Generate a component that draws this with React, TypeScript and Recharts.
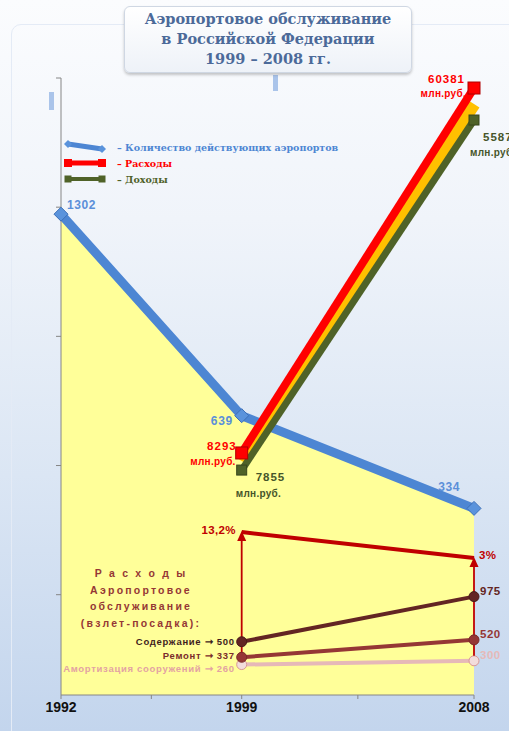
import React from 'react';
import { ComposedChart, Area, Line, XAxis, YAxis, Legend } from 'recharts';

// данные
const years = [1992, 1999, 2008];
const airportCount = [1302, 639, 334];
const expensesMln = [null, 8293, 60381];
const incomeMln = [null, 7855, 55877];
const expenseSharePct = [null, 13.2, 3];
const maintenanceCost = [null, 500, 975];
const repairCost = [null, 337, 520];
const depreciationCost = [null, 260, 300];
const yearTicks = [1992, 1995.5, 1999, 2003.5, 2008];
const labeledYears = [1992, 1999, 2008];
const airportTicks = [50, 475, 900, 1325, 1750];

const seriesNames = {
  airports: 'Количество действующих аэропортов',
  expenses: 'Расходы',
  income: 'Доходы',
};
const costNames = ['', 'Содержание', 'Ремонт', 'Амортизация сооружений'];
const unitLabel = 'млн.руб.';
const blockTitle = ['Р а с х о д ы', 'Аэропортовое', 'обслуживание', '(взлет-посадка):'];
const titleLines = ['Аэропортовое обслуживание', 'в Российской Федерации', '1999 – 2008 гг.'];

const data = years.map((year, i) => ({
  year,
  airports: airportCount[i],
  expenses: expensesMln[i],
  income: incomeMln[i],
  share: expenseSharePct[i],
  maintenance: maintenanceCost[i],
  repair: repairCost[i],
  depreciation: depreciationCost[i],
}));

const SANS = "'Liberation Sans', Arial, sans-serif";
const SERIF = "'DejaVu Serif', serif";

const Txt = ({ x, y, anchor = 'start', color, size = 11, spacing = 0.5, children }: any) => (
  <text
    x={x}
    y={y}
    textAnchor={anchor}
    dominantBaseline="central"
    fill={color}
    fontSize={size}
    fontWeight="bold"
    fontFamily={SANS}
    letterSpacing={spacing}
  >
    {children}
  </text>
);

// y точек амортизации, от них стрелки идут вверх к процентам
const depreciationY: Record<number, number> = {};

const airportDot = (p: any) => {
  const { cx, cy, index, value } = p;
  if (value == null || cy == null) return <g key={`a${index}`} />;
  const pos = [
    { dx: 6, dy: -9, a: 'start' },
    { dx: -9, dy: 5, a: 'end' },
    { dx: -14, dy: -21, a: 'end' },
  ][index];
  return (
    <g key={`a${index}`}>
      <polygon
        points={`${cx},${cy - 7} ${cx + 7},${cy} ${cx},${cy + 7} ${cx - 7},${cy}`}
        fill="#5a93dc"
        stroke="#3d70b8"
        strokeWidth={1}
      />
      <Txt x={cx + pos.dx} y={cy + pos.dy} anchor={pos.a} color="#5b8fd9" size={12} spacing={0.6}>
        {value}
      </Txt>
    </g>
  );
};

const expenseDot = (p: any) => {
  const { cx, cy, index, value } = p;
  if (value == null || cy == null) return <g key={`e${index}`} />;
  const pos = index === 2 ? { dx: -9, dy: -9, udx: -8, udy: 5 } : { dx: -5, dy: -7, udx: -6, udy: 9 };
  return (
    <g key={`e${index}`}>
      <rect x={cx - 6} y={cy - 6} width={12} height={12} fill="#ff0000" stroke="#b00000" strokeWidth={1} />
      <Txt x={cx + pos.dx} y={cy + pos.dy} anchor="end" color="#ff0000" size={11.5} spacing={1}>
        {value}
      </Txt>
      <Txt x={cx + pos.udx} y={cy + pos.udy} anchor="end" color="#ff0000" size={10} spacing={0.3}>
        {unitLabel}
      </Txt>
    </g>
  );
};

const incomeDot = (p: any) => {
  const { cx, cy, index, value } = p;
  if (value == null || cy == null) return <g key={`i${index}`} />;
  const pos = index === 2 ? { dx: 9, dy: 17, udx: -4, udy: 32 } : { dx: 14, dy: 7, udx: -6, udy: 23 };
  return (
    <g key={`i${index}`}>
      <rect x={cx - 5} y={cy - 5} width={10} height={10} fill="#4f6228" stroke="#38461c" strokeWidth={1} />
      <Txt x={cx + pos.dx} y={cy + pos.dy} color="#46552a" size={11.5} spacing={1}>
        {value}
      </Txt>
      <Txt x={cx + pos.udx} y={cy + pos.udy} color="#46552a" size={10} spacing={0.3}>
        {unitLabel}
      </Txt>
    </g>
  );
};

const makeCostDot = (
  fill: string,
  stroke: string,
  labelColor: string,
  sideColor: string,
  nameIdx: number,
  sideDy: number,
  capture = false,
) =>
  (p: any) => {
    const { cx, cy, index, value } = p;
    if (value == null || cy == null) return <g key={`c${nameIdx}-${index}`} />;
    if (capture) depreciationY[index] = cy;
    return (
      <g key={`c${nameIdx}-${index}`}>
        <circle cx={cx} cy={cy} r={5} fill={fill} stroke={stroke} strokeWidth={1} />
        {index === 1 ? (
          <Txt x={cx - 7} y={cy + sideDy} anchor="end" color={sideColor} size={9.5} spacing={0.7}>
            {`${costNames[nameIdx]} ➞ ${value}`}
          </Txt>
        ) : (
          <Txt x={cx + 6} y={cy - 6} color={labelColor} size={11.5} spacing={0.5}>
            {value}
          </Txt>
        )}
      </g>
    );
  };

const maintenanceDot = makeCostDot('#632523', '#4a1a19', '#632523', '#3f1d1d', 1, 0);
const repairDot = makeCostDot('#953735', '#7a2a28', '#953735', '#7b2c2c', 2, -1.5);
const depreciationDot = makeCostDot('#f2dcdb', '#d99694', '#e6b9b8', '#e3a3a3', 3, 3.5, true);

const shareDot = (p: any) => {
  const { cx, cy, index, value } = p;
  if (value == null || cy == null) return <g key={`s${index}`} />;
  const baseY = depreciationY[index] != null ? depreciationY[index] : cy + 130;
  const txt = `${String(value).replace('.', ',')}%`;
  return (
    <g key={`s${index}`}>
      <line x1={cx} y1={baseY - 5} x2={cx} y2={cy + 8} stroke="#c00000" strokeWidth={1.8} />
      <polygon points={`${cx},${cy - 1} ${cx - 4.5},${cy + 9} ${cx + 4.5},${cy + 9}`} fill="#c00000" />
      {index === 1 ? (
        <Txt x={cx - 6} y={cy - 2} anchor="end" color="#c00000" size={11.5} spacing={0.3}>
          {txt}
        </Txt>
      ) : (
        <Txt x={cx + 5} y={cy - 3} color="#c00000" size={11.5} spacing={0.3}>
          {txt}
        </Txt>
      )}
    </g>
  );
};

const yearTick = (p: any) => {
  const { x, y, payload } = p;
  if (!labeledYears.includes(payload.value)) return <g />;
  return (
    <text x={x} y={y + 11} textAnchor="middle" fontFamily={SANS} fontWeight="bold" fontSize={14} fill="#111">
      {payload.value}
    </text>
  );
};

const LegendIcon = ({ kind }: { kind: string }) => {
  if (kind === 'airports') {
    return (
      <svg width={44} height={14}>
        <line x1={5} y1={4} x2={39} y2={9} stroke="#4d86d3" strokeWidth={5} />
        <polygon points="5,0 9,4 5,8 1,4" fill="#5a93dc" />
        <polygon points="39,5 43,9 39,13 35,9" fill="#5a93dc" />
      </svg>
    );
  }
  const color = kind === 'expenses' ? '#ff0000' : '#4f6228';
  const s = kind === 'expenses' ? 8 : 7;
  return (
    <svg width={44} height={14}>
      <line x1={5} y1={7} x2={39} y2={7} stroke={color} strokeWidth={kind === 'expenses' ? 5 : 4} />
      <rect x={5 - s / 2} y={7 - s / 2} width={s} height={s} fill={color} />
      <rect x={39 - s / 2} y={7 - s / 2} width={s} height={s} fill={color} />
    </svg>
  );
};

const legendNames = [seriesNames.airports, seriesNames.expenses, seriesNames.income];
const legendKeys = ['airports', 'expenses', 'income'];
const renderLegend = (props: any) => {
  const seen: Record<string, boolean> = {};
  const items = (props.payload || [])
    .filter((e: any) => {
      if (!legendNames.includes(e.value) || seen[e.value]) return false;
      seen[e.value] = true;
      return true;
    })
    .sort((a: any, b: any) => legendNames.indexOf(a.value) - legendNames.indexOf(b.value));
  return (
    <div style={{ fontFamily: SERIF, fontWeight: 'bold', fontSize: 9.5 }}>
      {items.map((e: any) => {
        const kind = legendKeys[legendNames.indexOf(e.value)];
        return (
          <div key={kind} style={{ display: 'flex', alignItems: 'center', height: 16 }}>
            <LegendIcon kind={kind} />
            <span style={{ color: e.color, marginLeft: 10, whiteSpace: 'nowrap' }}>– {e.value}</span>
          </div>
        );
      })}
    </div>
  );
};

export default function App() {
  return (
    <div
      style={{
        position: 'relative',
        width: 509,
        height: 731,
        overflow: 'hidden',
        background: 'linear-gradient(to bottom, #fbfcfe 0%, #f0f4fa 30%, #dbe6f4 65%, #c3d5ed 100%)',
      }}
    >
      <style>{'body{margin:0}'}</style>
      <div
        style={{
          position: 'absolute',
          left: 11,
          top: 24,
          width: 520,
          height: 730,
          border: '1px solid #e4ebf6',
          borderRadius: 10,
        }}
      />
      <div style={{ position: 'absolute', left: 49, top: 92, width: 5, height: 18, background: '#aac4ea' }} />
      <div style={{ position: 'absolute', left: 273, top: 75, width: 5, height: 16, background: '#aac4ea' }} />

      <div style={{ position: 'absolute', left: 0, top: 0 }}>
        <ComposedChart width={509} height={731} data={data} margin={{ top: 78, right: 35, bottom: 6, left: 60 }}>
          <YAxis
            yAxisId="air"
            type="number"
            domain={[-280, 1750]}
            ticks={airportTicks}
            interval={0}
            tick={() => <g />}
            tickSize={5}
            width={1}
            stroke="#868686"
          />
          <YAxis yAxisId="exp" type="number" domain={[-26250, 61810]} hide />
          <YAxis yAxisId="inc" type="number" domain={[-23000, 61640]} hide />
          <YAxis yAxisId="band" type="number" domain={[-25850, 64170]} hide />
          <YAxis yAxisId="cost" type="number" domain={[-60, 6430]} hide />
          <YAxis yAxisId="pct" type="number" domain={[-50.7, 191.3]} hide />
          <XAxis
            dataKey="year"
            type="number"
            domain={[1992, 2008]}
            ticks={yearTicks}
            interval={0}
            tick={yearTick}
            tickSize={4}
            height={30}
            stroke="#868686"
          />

          <Legend
            content={renderLegend}
            layout="vertical"
            align="center"
            verticalAlign="middle"
            wrapperStyle={{ left: 63, top: 139, width: 320, bottom: 'auto', right: 'auto' }}
          />

          <Area
            yAxisId="air"
            dataKey="airports"
            fill="#ffff99"
            fillOpacity={1}
            stroke="none"
            baseValue="dataMin"
            legendType="none"
            isAnimationActive={false}
          />
          <Line
            yAxisId="air"
            dataKey="airports"
            name={seriesNames.airports}
            stroke="#4d86d3"
            strokeWidth={9}
            dot={airportDot}
            isAnimationActive={false}
          />
          <Line
            yAxisId="band"
            dataKey="expenses"
            stroke="#ffc000"
            strokeWidth={13}
            dot={false}
            legendType="none"
            isAnimationActive={false}
          />
          <Line
            yAxisId="inc"
            dataKey="income"
            name={seriesNames.income}
            stroke="#4f6228"
            strokeWidth={7}
            dot={incomeDot}
            isAnimationActive={false}
          />
          <Line
            yAxisId="exp"
            dataKey="expenses"
            name={seriesNames.expenses}
            stroke="#ff0000"
            strokeWidth={8}
            dot={expenseDot}
            isAnimationActive={false}
          />
          <Line
            yAxisId="cost"
            dataKey="depreciation"
            stroke="#e6b9b8"
            strokeWidth={4}
            dot={depreciationDot}
            legendType="none"
            isAnimationActive={false}
          />
          <Line
            yAxisId="pct"
            dataKey="share"
            stroke="#c00000"
            strokeWidth={4}
            dot={shareDot}
            legendType="none"
            isAnimationActive={false}
          />
          <Line
            yAxisId="cost"
            dataKey="repair"
            stroke="#953735"
            strokeWidth={4}
            dot={repairDot}
            legendType="none"
            isAnimationActive={false}
          />
          <Line
            yAxisId="cost"
            dataKey="maintenance"
            stroke="#632523"
            strokeWidth={4}
            dot={maintenanceDot}
            legendType="none"
            isAnimationActive={false}
          />
        </ComposedChart>
      </div>

      <div
        style={{
          position: 'absolute',
          left: 66,
          top: 565,
          width: 150,
          textAlign: 'center',
          fontFamily: SANS,
          fontWeight: 'bold',
          fontSize: 10.5,
          letterSpacing: 2.2,
          lineHeight: '16.5px',
          color: '#953735',
        }}
      >
        {blockTitle.map((t) => (
          <div key={t}>{t}</div>
        ))}
      </div>

      <div
        style={{
          position: 'absolute',
          left: 124,
          top: 6,
          width: 288,
          height: 67,
          boxSizing: 'border-box',
          borderRadius: 6,
          border: '1px solid #cfd7e3',
          background: 'linear-gradient(to bottom, #ffffff, #eef2f8)',
          boxShadow: '0 2px 3px rgba(0,0,0,0.22)',
          textAlign: 'center',
          fontFamily: SERIF,
          fontWeight: 'bold',
          fontSize: 14.5,
          lineHeight: '20px',
          paddingTop: 2,
          color: '#4c6a99',
        }}
      >
        {titleLines.map((t) => (
          <div key={t}>{t}</div>
        ))}
      </div>
    </div>
  );
}
